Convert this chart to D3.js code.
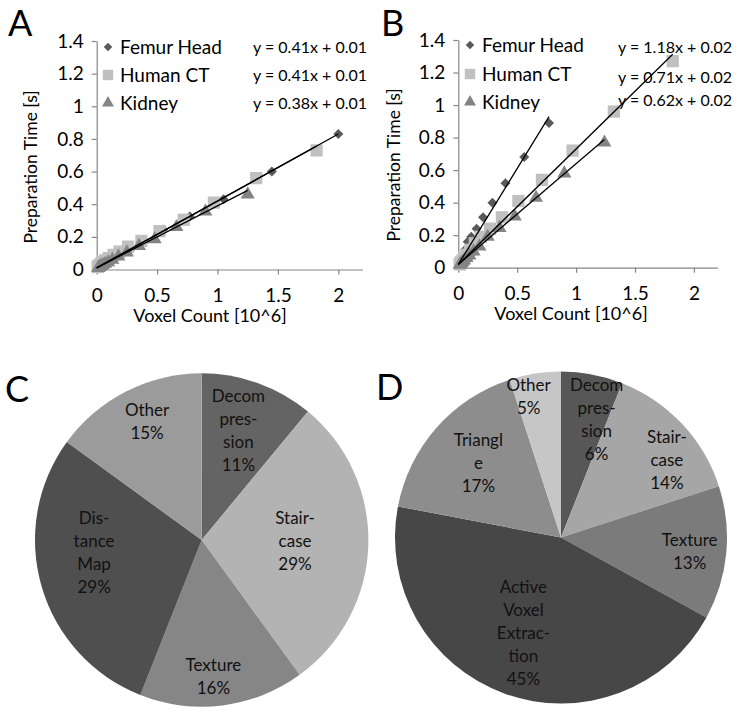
<!DOCTYPE html>
<html><head><meta charset="utf-8">
<script src="https://cdn.jsdelivr.net/npm/d3@7"></script>
<style>body{margin:0;background:#fff} svg{display:block;font-family:Lato, sans-serif}</style>
</head><body><svg id="c" width="741" height="712"></svg>
<script>
// ---------- data ----------
const seriesNames = ["Femur Head", "Human CT", "Kidney"];
const xTickValues = [0, 0.5, 1, 1.5, 2];
const xTickLabels = ["0", "0.5", "1", "1.5", "2"];
const yTickValues = [0, 0.2, 0.4, 0.6, 0.8, 1, 1.2, 1.4];
const yTickLabels = ["0", "0.2", "0.4", "0.6", "0.8", "1", "1.2", "1.4"];

// Panel A
const femurA_x = [2.0, 1.45, 1.05, 0.77, 0.55, 0.40, 0.29, 0.21, 0.15, 0.11, 0.08, 0.058, 0.042, 0.03, 0.022, 0.015, 0.01];
const femurA_y = [0.83, 0.60, 0.43, 0.325, 0.245, 0.175, 0.13, 0.10, 0.075, 0.058, 0.046, 0.036, 0.029, 0.023, 0.018, 0.015, 0.012];
const ctA_x = [1.82, 1.32, 0.97, 0.72, 0.52, 0.37, 0.26, 0.19, 0.14, 0.10, 0.07, 0.05, 0.036, 0.026, 0.018, 0.012, 0.008];
const ctA_y = [0.73, 0.56, 0.41, 0.305, 0.235, 0.175, 0.14, 0.11, 0.09, 0.07, 0.056, 0.045, 0.036, 0.028, 0.022, 0.018, 0.015];
const kidneyA_x = [1.25, 0.90, 0.66, 0.48, 0.35, 0.25, 0.18, 0.13, 0.095, 0.07, 0.05, 0.036, 0.026, 0.018, 0.012];
const kidneyA_y = [0.46, 0.355, 0.26, 0.185, 0.145, 0.105, 0.08, 0.06, 0.045, 0.035, 0.028, 0.022, 0.017, 0.013, 0.01];
const slopesA = [0.41, 0.41, 0.38];
const interceptsA = [0.01, 0.01, 0.01];
const equationsA = ["y = 0.41x + 0.01", "y = 0.41x + 0.01", "y = 0.38x + 0.01"];

// Panel B
const femurB_x = [0.77, 0.56, 0.40, 0.29, 0.21, 0.155, 0.11, 0.08, 0.058, 0.042, 0.03, 0.022, 0.015, 0.01];
const femurB_y = [0.89, 0.68, 0.52, 0.40, 0.31, 0.24, 0.19, 0.16, 0.11, 0.08, 0.06, 0.045, 0.035, 0.025];
const ctB_x = [1.82, 1.32, 0.97, 0.71, 0.51, 0.37, 0.27, 0.19, 0.14, 0.10, 0.07, 0.05, 0.036, 0.026, 0.018, 0.012];
const ctB_y = [1.27, 0.96, 0.72, 0.54, 0.41, 0.31, 0.24, 0.19, 0.15, 0.11, 0.08, 0.06, 0.045, 0.035, 0.028, 0.02];
const kidneyB_x = [1.24, 0.90, 0.66, 0.48, 0.35, 0.25, 0.18, 0.13, 0.095, 0.07, 0.05, 0.036, 0.026, 0.018, 0.012];
const kidneyB_y = [0.77, 0.58, 0.43, 0.315, 0.245, 0.19, 0.13, 0.10, 0.075, 0.06, 0.045, 0.035, 0.028, 0.022, 0.018];
const slopesB = [1.18, 0.71, 0.62];
const interceptsB = [0.02, 0.02, 0.02];
const equationsB = ["y = 1.18x + 0.02", "y = 0.71x + 0.02", "y = 0.62x + 0.02"];

// Panel C pie
const pieC_names = ["Decom\npres-\nsion", "Stair-\ncase", "Texture", "Dis-\ntance\nMap", "Other"];
const pieC_values = [11, 29, 16, 29, 15];
// Panel D pie
const pieD_names = ["Decom\npres-\nsion", "Stair-\ncase", "Texture", "Active\nVoxel\nExtrac-\ntion", "Triangl\ne", "Other"];
const pieD_values = [6, 14, 13, 45, 17, 5];

// ---------- styles / layout ----------
const markerColors = ["#5a5a5a", "#c0c0c0", "#848484"];
const pieC_colors = ["#646464", "#b3b3b3", "#868686", "#4f4f4f", "#9b9b9b"];
const pieD_colors = ["#575757", "#a6a6a6", "#7b7b7b", "#474747", "#8d8d8d", "#c6c6c6"];
// label placement: fraction of the slice's angle span, fraction of radius
const pieC_labelT = [0.47, 0.49, 0.54, 0.59, 0.54];
const pieC_labelR = [0.69, 0.56, 0.82, 0.65, 0.78];
const pieD_labelT = [0.78, 0.64, 0.52, 0.51, 0.51, 0.28];
const pieD_labelR = [0.74, 0.79, 0.78, 0.62, 0.67, 0.87];

const svg = d3.select("#c");
const axisColor = "#868686";

function markerPath(i, scale) {
  const s = scale || 1;
  if (i === 0) return d3.symbol().type(d3.symbolSquare).size(50 * s * s)();
  if (i === 1) return d3.symbol().type(d3.symbolSquare).size(150 * s * s)();
  return d3.symbol().type(d3.symbolTriangle).size(85 * s * s)();
}

function drawScatter(cfg) {
  const g = svg.append("g");
  const x = d3.scaleLinear().domain([0, 2.2]).range([cfg.x0, cfg.x1]);
  const y = d3.scaleLinear().domain([0, 1.4]).range([cfg.y0, cfg.y1]);

  const xa = g.append("g").attr("transform", `translate(0,${cfg.y0})`)
    .call(d3.axisBottom(x).tickValues(xTickValues).tickFormat((d, i) => xTickLabels[i])
      .tickSize(5).tickSizeOuter(0).tickPadding(14));
  const ya = g.append("g").attr("transform", `translate(${cfg.x0},0)`)
    .call(d3.axisLeft(y).tickValues(yTickValues).tickFormat((d, i) => yTickLabels[i])
      .tickSize(5).tickSizeOuter(0).tickPadding(8));
  [xa, ya].forEach(a => {
    a.select(".domain").attr("stroke", axisColor).attr("stroke-width", 1.2);
    a.selectAll(".tick line").attr("stroke", axisColor).attr("stroke-width", 1.2);
    a.selectAll("text").attr("font-size", 19).attr("fill", "#000").attr("font-family", "Lato");
  });

  // points
  cfg.series.forEach((s, i) => {
    g.append("g").selectAll("path").data(s.x.map((v, j) => [v, s.y[j]])).join("path")
      .attr("d", markerPath(i))
      .attr("transform", d => `translate(${x(d[0])},${y(d[1])})` + (i === 0 ? " rotate(45)" : ""))
      .attr("fill", markerColors[i]);
  });
  // trendlines
  cfg.series.forEach((s, i) => {
    const xmax = d3.max(s.x);
    g.append("line")
      .attr("x1", x(0)).attr("y1", y(cfg.intercepts[i]))
      .attr("x2", x(xmax)).attr("y2", y(cfg.slopes[i] * xmax + cfg.intercepts[i]))
      .attr("stroke", "#000").attr("stroke-width", 1.3);
  });
  // legend
  const lg = g.append("g");
  seriesNames.forEach((n, i) => {
    const yy = cfg.legY[i];
    lg.append("path").attr("d", markerPath(i, 0.85))
      .attr("transform", `translate(${cfg.legX},${yy})` + (i === 0 ? " rotate(45)" : ""))
      .attr("fill", markerColors[i]);
    lg.append("text").attr("x", cfg.legX + 12).attr("y", yy).attr("dy", "0.35em")
      .attr("font-size", 19).text(n);
    lg.append("text").attr("x", cfg.eqX).attr("y", cfg.eqY[i]).attr("dy", "0.35em")
      .attr("text-anchor", "end").attr("font-size", 16).text(cfg.equations[i]);
  });
  // axis titles
  g.append("text").attr("transform", `translate(${cfg.yTitle[0]},${cfg.yTitle[1]}) rotate(-90)`)
    .attr("text-anchor", "middle").attr("dy", "0.35em").attr("font-size", 17.5).text("Preparation Time [s]");
  g.append("text").attr("x", cfg.xTitle[0]).attr("y", cfg.xTitle[1]).attr("dy", "0.35em")
    .attr("text-anchor", "middle").attr("font-size", 18).text("Voxel Count [10^6]");
  // panel letter
  g.append("text").attr("x", cfg.letterPos[0]).attr("y", cfg.letterPos[1])
    .attr("font-size", 36).text(cfg.letter);
}

drawScatter({
  x0: 96.7, x1: 362.5, y0: 269.5, y1: 41,
  series: [{x: femurA_x, y: femurA_y}, {x: ctA_x, y: ctA_y}, {x: kidneyA_x, y: kidneyA_y}],
  slopes: slopesA, intercepts: interceptsA, equations: equationsA,
  legX: 108, legY: [47, 75, 103], eqX: 367, eqY: [47, 75, 103],
  yTitle: [31, 167], xTitle: [210, 316], letter: "A", letterPos: [8, 36]
});
drawScatter({
  x0: 458.3, x1: 717.5, y0: 267.7, y1: 40,
  series: [{x: femurB_x, y: femurB_y}, {x: ctB_x, y: ctB_y}, {x: kidneyB_x, y: kidneyB_y}],
  slopes: slopesB, intercepts: interceptsB, equations: equationsB,
  legX: 470, legY: [45, 74, 102], eqX: 732, eqY: [47, 77, 100],
  yTitle: [394, 165], xTitle: [571, 314], letter: "B", letterPos: [381, 36]
});

function drawPie(cfg) {
  const g = svg.append("g").attr("transform", `translate(${cfg.cx},${cfg.cy})`);
  const arcs = d3.pie().sort(null).value(d => d)(cfg.values);
  const arc = d3.arc().innerRadius(0).outerRadius(cfg.r);
  g.selectAll("path").data(arcs).join("path").attr("d", arc)
    .attr("fill", (d, i) => cfg.colors[i]);
  arcs.forEach((a, i) => {
    const ang = a.startAngle + (a.endAngle - a.startAngle) * cfg.labelT[i];
    const rr = cfg.r * cfg.labelR[i];
    const px = Math.sin(ang) * rr, py = -Math.cos(ang) * rr;
    const lines = cfg.names[i].split("\n").concat([cfg.values[i] + "%"]);
    const lh = 23;
    const t = g.append("text").attr("text-anchor", "middle").attr("font-size", 17).attr("fill", "#111");
    lines.forEach((ln, k) => {
      t.append("tspan").attr("x", px).attr("y", py + (k - (lines.length - 1) / 2) * lh).attr("dy", "0.35em").text(ln);
    });
  });
  svg.append("text").attr("x", cfg.letterPos[0]).attr("y", cfg.letterPos[1])
    .attr("font-size", 36).text(cfg.letter);
}

drawPie({cx: 201.7, cy: 540, r: 166.7, values: pieC_values, names: pieC_names, colors: pieC_colors,
  labelT: pieC_labelT, labelR: pieC_labelR, letter: "C", letterPos: [5, 402]});
drawPie({cx: 561, cy: 537.5, r: 166, values: pieD_values, names: pieD_names, colors: pieD_colors,
  labelT: pieD_labelT, labelR: pieD_labelR, letter: "D", letterPos: [376, 400]});
</script></body></html>
